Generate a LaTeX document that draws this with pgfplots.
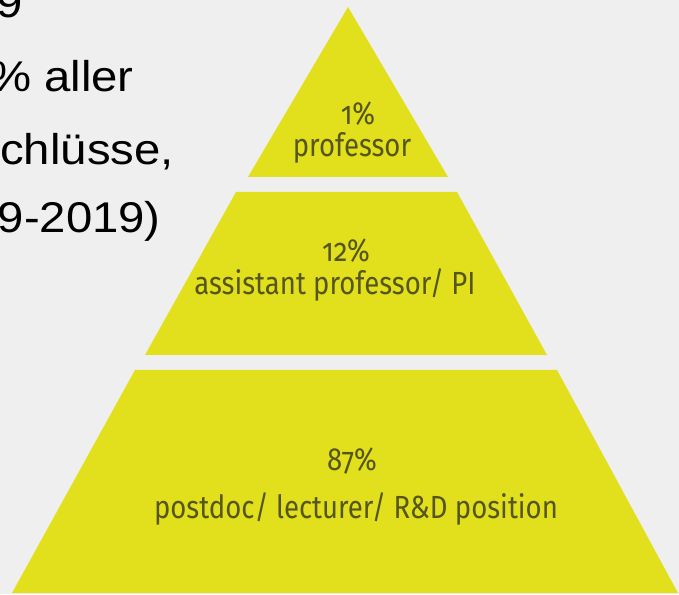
\documentclass[border=0pt]{standalone}
\usepackage{pgfplots}
\pgfplotsset{compat=1.18}
\usepackage{fontspec}
\setmainfont[FakeStretch=1.1]{Liberation Sans}
\newfontfamily\pyr[Numbers=OldStyle, FakeStretch=0.86]{Fira Sans}
\definecolor{bg}{HTML}{EFEFEF}
\definecolor{pyry}{HTML}{E2E01C}
\definecolor{pyrt}{HTML}{55551C}
\begin{document}
\begin{tikzpicture}[x=1pt,y=1pt]
\useasboundingbox (0,0) rectangle (679,594);
\clip (0,0) rectangle (679,594);
\fill[bg] (0,0) rectangle (679,594);
\begin{axis}[
  at={(0,0)}, anchor=south west,
  width=679pt, height=594pt, scale only axis,
  xmin=0, xmax=679, ymin=0, ymax=594,
  hide axis, clip=false,
]
% layer 1: professor (1%)
\addplot[fill=pyry, draw=none] coordinates {(348,587) (448,417) (248,417)} -- cycle;
% layer 2: assistant professor / PI (12%)
\addplot[fill=pyry, draw=none] coordinates {(236,402) (457,402) (547,239) (145,239)} -- cycle;
% layer 3: postdoc / lecturer / R&D position (87%)
\addplot[fill=pyry, draw=none] coordinates {(135,224) (557,224) (678,1) (12,1)} -- cycle;

\node[anchor=base, text=pyrt, font=\pyr\fontsize{32}{34}\selectfont] at (axis cs:358,469) {1\%};
\node[anchor=base, text=pyrt, font=\pyr\fontsize{32}{34}\selectfont] at (axis cs:352,437) {professor};
\node[anchor=base, text=pyrt, font=\pyr\fontsize{32}{34}\selectfont] at (axis cs:346,332) {12\%};
\node[anchor=base, text=pyrt, font=\pyr\fontsize{32}{34}\selectfont] at (axis cs:335,299) {assistant professor/ PI};
\node[anchor=base, text=pyrt, font=\pyr\fontsize{32}{34}\selectfont] at (axis cs:352,123) {87\%};
\node[anchor=base, text=pyrt, font=\pyr\fontsize{32}{34}\selectfont] at (axis cs:356,76) {postdoc/ lecturer/ R\&D position};

\node[anchor=base east, inner sep=0pt, font=\fontsize{43}{48}\selectfont] at (axis cs:23,576) {2019};
\node[anchor=base east, inner sep=0pt, font=\fontsize{43}{48}\selectfont] at (axis cs:134,502) {\% aller};
\node[anchor=base east, inner sep=0pt, font=\fontsize{43}{48}\selectfont] at (axis cs:174,429) {Abschlüsse,};
\node[anchor=base east, inner sep=0pt, font=\fontsize{43}{48}\selectfont] at (axis cs:161,361) {(2009-2019)};
\end{axis}
\end{tikzpicture}
\end{document}
